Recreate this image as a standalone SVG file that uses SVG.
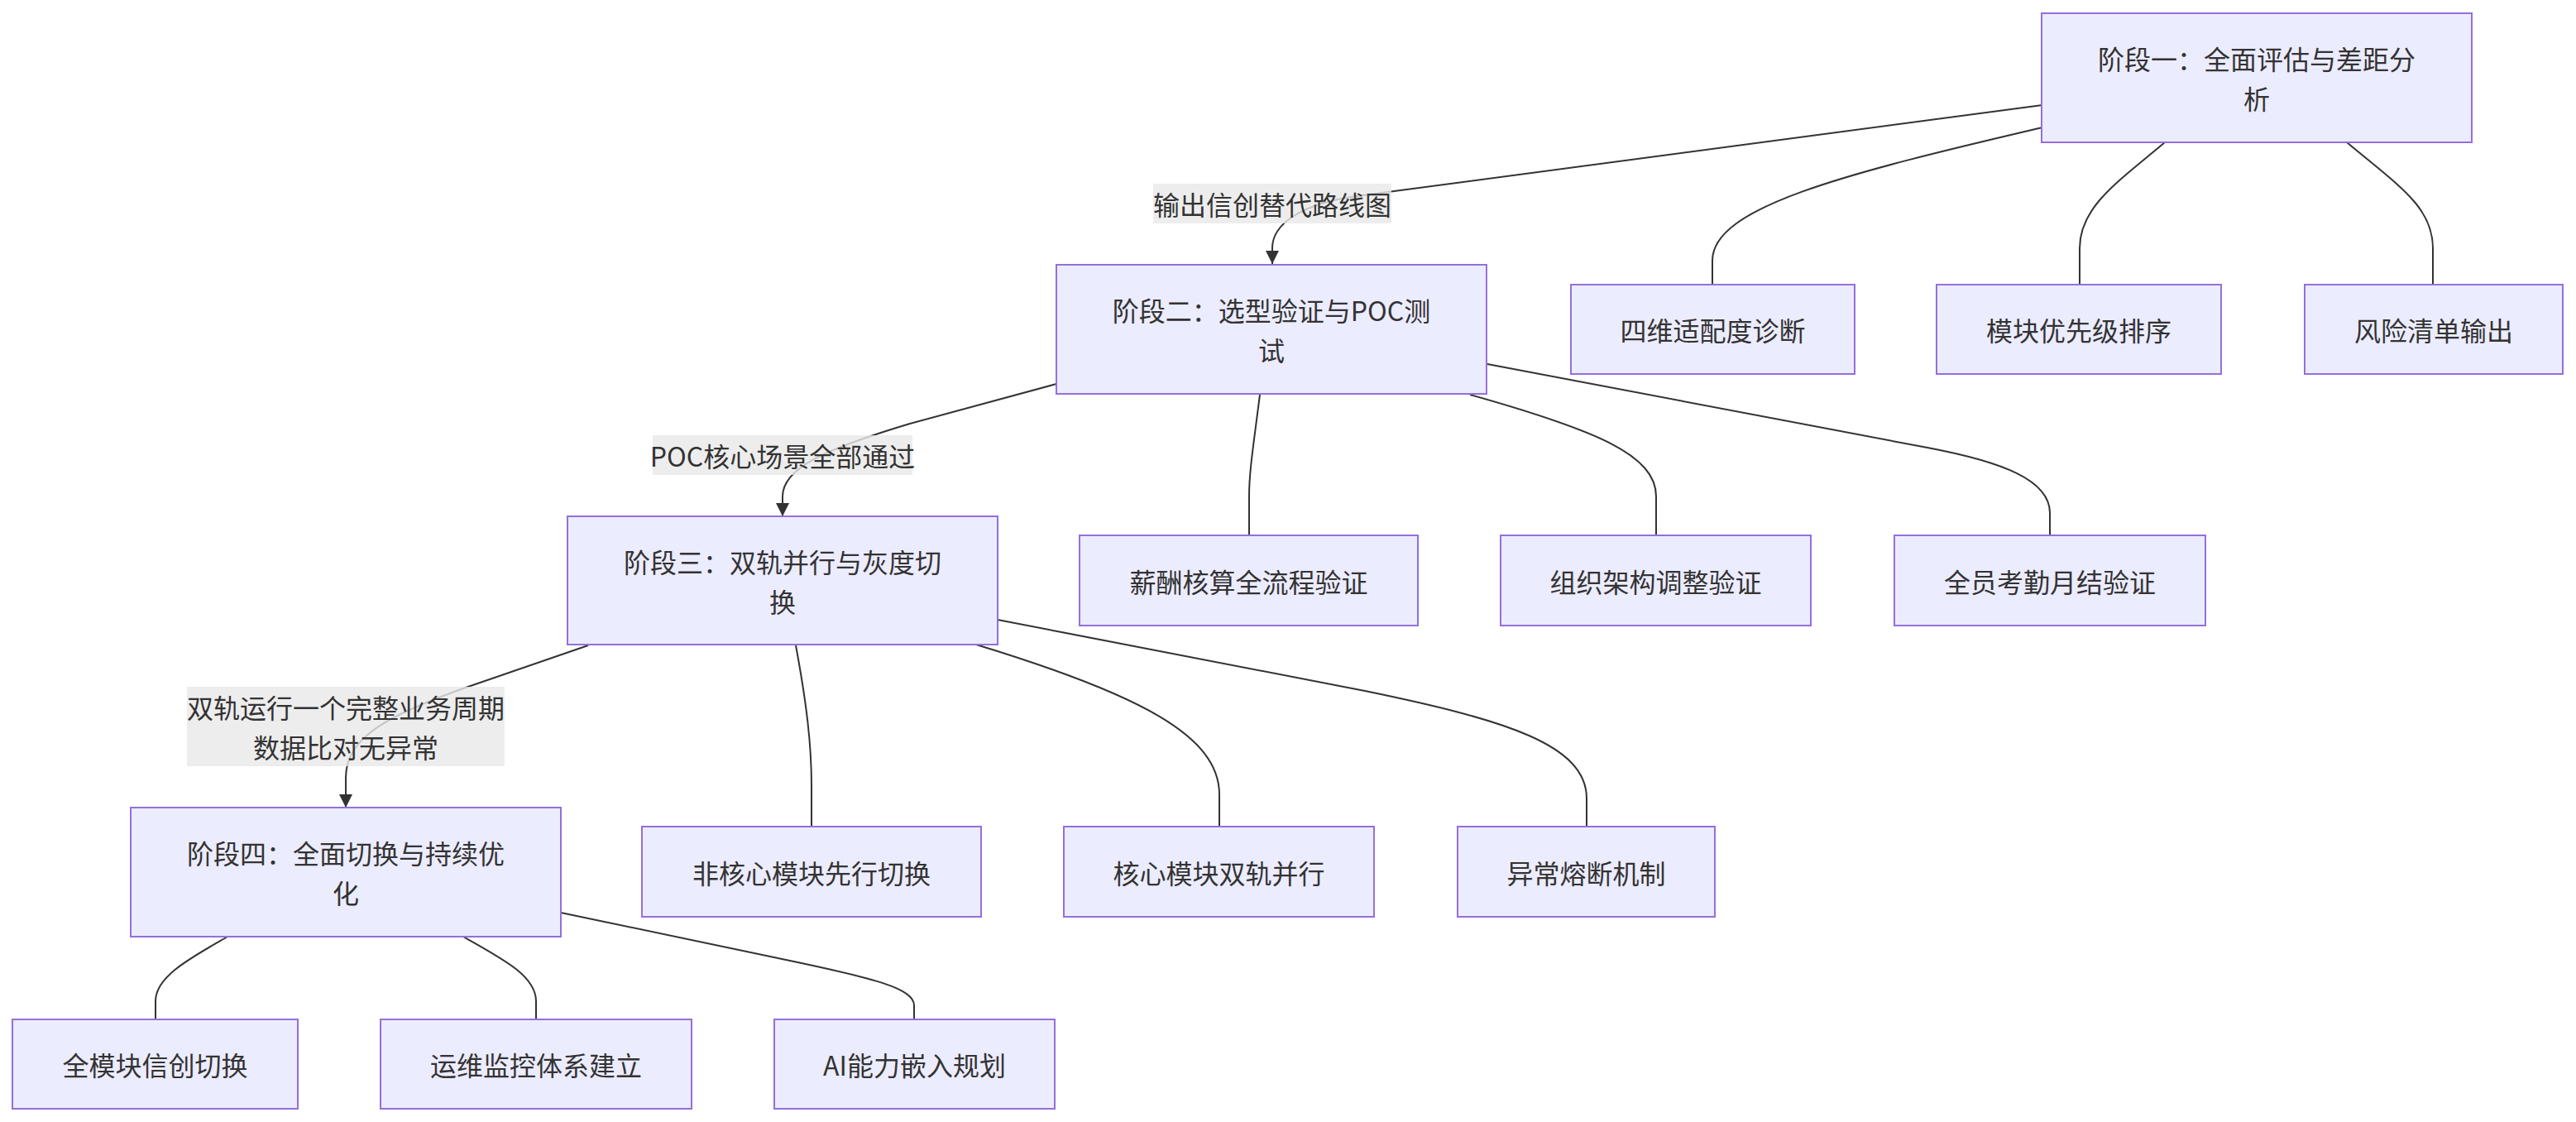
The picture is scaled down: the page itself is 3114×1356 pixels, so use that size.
<svg xmlns="http://www.w3.org/2000/svg" width="3114" height="1356" viewBox="0 0 3114 1356">
<defs>
<marker id="arrow" viewBox="0 0 10 10" refX="10" refY="5" markerUnits="userSpaceOnUse" markerWidth="16" markerHeight="16" orient="auto">
<path d="M0,0 L10,5 L0,10 z" fill="#333333"/>
</marker>
</defs>
<style>
.node rect{fill:#ECECFF;stroke:#9370DB;stroke-width:2}
.node text,.lbl text{font-family:"Noto Sans CJK SC","Liberation Sans",sans-serif;font-size:32px;fill:#333333;text-anchor:middle;dominant-baseline:central}
.edges path{fill:none;stroke:#333333;stroke-width:2}
.lbl rect{fill:#e8e8e8;fill-opacity:0.8}
</style>
<rect width="3114" height="1356" fill="#ffffff"/>
<g class="edges" id="connectors">
<path d="M2469,127 L1640,237 C1570,247 1538,272 1538,300 L1538,319" marker-end="url(#arrow)"/>
<path d="M2469,154 C2230,210 2070,250 2070,315 L2070,344"/>
<path d="M2617,172 C2560,220 2514,250 2514,300 L2514,344"/>
<path d="M2837,172 C2900,225 2941,250 2941,300 L2941,344"/>
<path d="M1277,464 L1100,512 C1000,542 946,565 946,600 L946,624" marker-end="url(#arrow)"/>
<path d="M1523,477 C1515,540 1510,570 1510,600 L1510,647"/>
<path d="M1777,477 C1930,520 2002,550 2002,600 L2002,647"/>
<path d="M1798,440 L2330,541 C2420,558 2478,580 2478,620 L2478,647"/>
<path d="M711,780 L560,832 C470,865 418,890 418,940 L418,976" marker-end="url(#arrow)"/>
<path d="M962,780 C975,850 981,900 981,950 L981,999"/>
<path d="M1180,779 C1380,840 1474,890 1474,960 L1474,999"/>
<path d="M1206,749 L1650,835 C1820,870 1918,900 1918,965 L1918,999"/>
<path d="M275,1132 C230,1158 188,1180 188,1210 L188,1232"/>
<path d="M560,1132 C610,1160 648,1180 648,1210 L648,1232"/>
<path d="M678,1103 L950,1160 C1060,1183 1105,1195 1105,1215 L1105,1232"/>
</g>
<g class="lbl" id="label1"><rect x="1394" y="222" width="288" height="48"/><text x="1538" y="246">输出信创替代路线图</text></g>
<g class="lbl" id="label2"><rect x="789" y="526" width="314" height="48"/><text x="946" y="550">POC核心场景全部通过</text></g>
<g class="lbl" id="label3"><rect x="226" y="830" width="384" height="96"/><text x="418" y="854">双轨运行一个完整业务周期</text><text x="418" y="902">数据比对无异常</text></g>
<g class="node" id="S1"><rect x="2468" y="16" width="520" height="156"/><text x="2728" y="70">阶段一：全面评估与差距分</text><text x="2728" y="118">析</text></g>
<g class="node" id="C1a"><rect x="1899" y="344" width="343" height="108"/><text x="2070.5" y="398">四维适配度诊断</text></g>
<g class="node" id="C1b"><rect x="2341" y="344" width="344" height="108"/><text x="2513" y="398">模块优先级排序</text></g>
<g class="node" id="C1c"><rect x="2786" y="344" width="312" height="108"/><text x="2942" y="398">风险清单输出</text></g>
<g class="node" id="S2"><rect x="1277" y="320" width="520" height="156"/><text x="1537" y="374">阶段二：选型验证与POC测</text><text x="1537" y="422">试</text></g>
<g class="node" id="C2a"><rect x="1305" y="647" width="409" height="109"/><text x="1509.5" y="701.5">薪酬核算全流程验证</text></g>
<g class="node" id="C2b"><rect x="1814" y="647" width="375" height="109"/><text x="2001.5" y="701.5">组织架构调整验证</text></g>
<g class="node" id="C2c"><rect x="2290" y="647" width="376" height="109"/><text x="2478" y="701.5">全员考勤月结验证</text></g>
<g class="node" id="S3"><rect x="686" y="624" width="520" height="155"/><text x="946" y="677.5">阶段三：双轨并行与灰度切</text><text x="946" y="725.5">换</text></g>
<g class="node" id="C3a"><rect x="776" y="999" width="410" height="109"/><text x="981" y="1053.5">非核心模块先行切换</text></g>
<g class="node" id="C3b"><rect x="1286" y="999" width="375" height="109"/><text x="1473.5" y="1053.5">核心模块双轨并行</text></g>
<g class="node" id="C3c"><rect x="1762" y="999" width="311" height="109"/><text x="1917.5" y="1053.5">异常熔断机制</text></g>
<g class="node" id="S4"><rect x="158" y="976" width="520" height="156"/><text x="418" y="1030">阶段四：全面切换与持续优</text><text x="418" y="1078">化</text></g>
<g class="node" id="C4a"><rect x="15" y="1232" width="345" height="108"/><text x="187.5" y="1286">全模块信创切换</text></g>
<g class="node" id="C4b"><rect x="460" y="1232" width="376" height="108"/><text x="648" y="1286">运维监控体系建立</text></g>
<g class="node" id="C4c"><rect x="936" y="1232" width="339" height="108"/><text x="1105.5" y="1286">AI能力嵌入规划</text></g>
</svg>
